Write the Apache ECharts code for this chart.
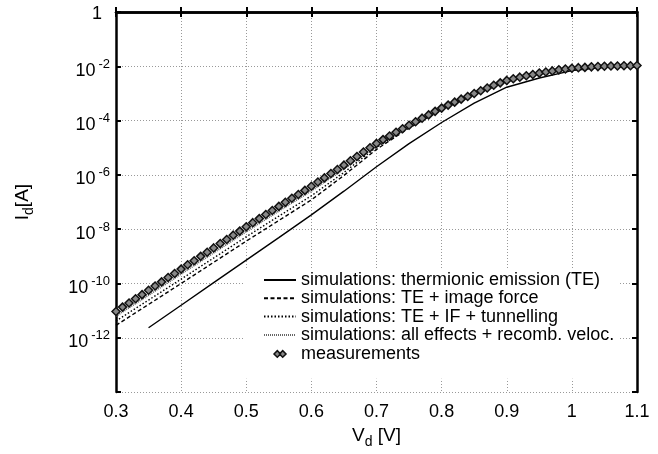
<!DOCTYPE html>
<html><head><meta charset="utf-8">
<script src="https://cdn.jsdelivr.net/npm/echarts@6/dist/echarts.min.js"></script>
<style>html,body{margin:0;padding:0;background:#fff}#c{width:658px;height:454px}</style>
</head><body><div id="c"></div>
<script>
// Measurements: Vd [V] and log10(Id [A])
const measV = [0.30,0.31,0.32,0.33,0.34,0.35,0.36,0.37,0.38,0.39,0.40,0.41,0.42,0.43,0.44,0.45,0.46,0.47,0.48,0.49,0.50,
  0.51,0.52,0.53,0.54,0.55,0.56,0.57,0.58,0.59,0.60,0.61,0.62,0.63,0.64,0.65,0.66,0.67,0.68,0.69,0.70,
  0.71,0.72,0.73,0.74,0.75,0.76,0.77,0.78,0.79,0.80,0.81,0.82,0.83,0.84,0.85,0.86,0.87,0.88,0.89,0.90,
  0.91,0.92,0.93,0.94,0.95,0.96,0.97,0.98,0.99,1.00,1.01,1.02,1.03,1.04,1.05,1.06,1.07,1.08,1.09,1.10];
const measLog = [-11.03,-10.87,-10.72,-10.56,-10.41,-10.25,-10.09,-9.94,-9.78,-9.63,-9.47,-9.31,-9.16,-9.00,-8.85,-8.69,-8.53,-8.38,-8.22,-8.07,-7.91,
  -7.76,-7.61,-7.46,-7.31,-7.16,-7.01,-6.86,-6.72,-6.57,-6.42,-6.26,-6.11,-5.95,-5.80,-5.64,-5.48,-5.32,-5.16,-5.00,-4.84,
  -4.70,-4.57,-4.43,-4.30,-4.17,-4.04,-3.91,-3.79,-3.66,-3.54,-3.43,-3.32,-3.21,-3.11,-3.00,-2.90,-2.80,-2.70,-2.61,-2.52,
  -2.46,-2.40,-2.35,-2.30,-2.25,-2.21,-2.17,-2.13,-2.10,-2.07,-2.05,-2.04,-2.02,-2.01,-2.00,-1.99,-1.99,-1.98,-1.98,-1.97];
// Simulations: Vd [V] and log10(Id [A])
const simV = [0.30,0.35,0.40,0.45,0.50,0.55,0.60,0.65,0.70,0.75,0.80,0.85,0.90,0.95,1.00,1.05,1.10];
const teV  = [0.35,0.40,0.45,0.50,0.55,0.60,0.65,0.70,0.75,0.80,0.85,0.90,0.95,1.00,1.05,1.10];
const teLog  = [-11.63,-10.80,-9.97,-9.14,-8.31,-7.47,-6.60,-5.70,-4.85,-4.07,-3.36,-2.77,-2.43,-2.16,-2.04,-1.98];
const ifLog  = [-11.54,-10.77,-10.00,-9.22,-8.44,-7.68,-6.92,-6.02,-5.06,-4.27,-3.60,-3.04,-2.55,-2.27,-2.09,-2.01,-1.97];
const tunLog = [-11.38,-10.61,-9.84,-9.06,-8.28,-7.52,-6.77,-5.91,-4.98,-4.24,-3.58,-3.03,-2.54,-2.26,-2.08,-2.00,-1.97];
const allLog = [-11.20,-10.43,-9.65,-8.87,-8.09,-7.33,-6.59,-5.78,-4.93,-4.21,-3.56,-3.01,-2.53,-2.25,-2.07,-2.00,-1.97];
// Decade tick labels shown on the current axis (log10 of Id)
const yTickExp = [0, -2, -4, -6, -8, -10, -12];
const names = ['simulations: thermionic emission (TE)','simulations: TE + image force','simulations: TE + IF + tunnelling','simulations: all effects + recomb. veloc.','measurements'];

const FONT = 'Liberation Sans, Arial, Helvetica, sans-serif';
const pts = (xs, ls) => xs.map((x, i) => [x, ls[i]]);

const chart = echarts.init(document.getElementById('c'), null, {renderer: 'canvas'});
const axisLineStyle = {color: '#000', width: 2.5};
const tickStyle = {show: true, inside: true, length: 5, lineStyle: {color: '#000', width: 2}};
const gridLine = {show: true, lineStyle: {color: '#999', width: 1, type: [1, 2]}};
const noSym = {color: 'rgba(0,0,0,0)', borderColor: 'rgba(0,0,0,0)', borderWidth: 0, opacity: 0};

function yLabel(v) {
  const e = Math.round(v);
  if (yTickExp.indexOf(e) < 0) return '';
  if (e === 0) return '{one|1}';
  return '{b|10}{s|' + e + '}';
}

chart.setOption({
  animation: false,
  backgroundColor: '#fff',
  grid: {left: 116, right: 21, top: 12, bottom: 54, containLabel: false},
  xAxis: [{
    type: 'value', min: 0.3, max: 1.1, interval: 0.1, position: 'bottom',
    axisLine: {show: true, lineStyle: axisLineStyle}, axisTick: tickStyle, splitLine: gridLine,
    axisLabel: {color: '#000', fontSize: 18, fontFamily: FONT, margin: 11},
    name: '{b|V}{s|d}{b| [V]}', nameLocation: 'middle', nameGap: 24,
    nameTextStyle: {rich: {
      b: {fontSize: 19, fontFamily: FONT, color: '#000', lineHeight: 20, verticalAlign: 'top'},
      s: {fontSize: 14, fontFamily: FONT, color: '#000', lineHeight: 32, verticalAlign: 'middle'}
    }}
  }, {
    type: 'value', min: 0.3, max: 1.1, interval: 0.1, position: 'top',
    axisLine: {show: true, lineStyle: axisLineStyle}, axisTick: tickStyle,
    axisLabel: {show: false}, splitLine: {show: false}
  }],
  yAxis: [{
    type: 'value', min: -14, max: 0, interval: 2, position: 'left',
    axisLine: {show: true, lineStyle: axisLineStyle}, axisTick: tickStyle, splitLine: gridLine,
    axisLabel: {formatter: yLabel, margin: 6, padding: [5, 0, 0, 0], rich: {
      one: {fontSize: 18, fontFamily: FONT, color: '#000', padding: [0, 8, 0, 0], lineHeight: 22},
      b: {fontSize: 18, fontFamily: FONT, color: '#000', lineHeight: 22, verticalAlign: 'bottom'},
      s: {fontSize: 13, fontFamily: FONT, color: '#000', lineHeight: 12, verticalAlign: 'top', padding: [0, 0, 0, 3]}
    }},
    name: '{b|I}{s|d}{b|[A]}', nameLocation: 'middle', nameRotate: 90, nameGap: 71,
    nameTextStyle: {rich: {
      b: {fontSize: 19, fontFamily: FONT, color: '#000', lineHeight: 20, verticalAlign: 'top'},
      s: {fontSize: 14, fontFamily: FONT, color: '#000', lineHeight: 32, verticalAlign: 'middle'}
    }}
  }, {
    type: 'value', min: -14, max: 0, interval: 2, position: 'right',
    axisLine: {show: true, lineStyle: axisLineStyle}, axisTick: tickStyle,
    axisLabel: {show: false}, splitLine: {show: false}
  }],
  legend: {
    orient: 'vertical', left: 243, top: 269, padding: [2, 4, 15, 20],
    itemWidth: 32, itemHeight: 18, itemGap: 0.3, backgroundColor: '#fff', selectedMode: false,
    textStyle: {fontSize: 18, fontFamily: FONT, color: '#000'},
    data: [
      {name: names[0], itemStyle: noSym}, {name: names[1], itemStyle: noSym},
      {name: names[2], itemStyle: noSym}, {name: names[3], itemStyle: noSym},
      {name: names[4], icon: 'path://M0 0M32 18M10 9L13.3 5.7L16.6 9L13.3 12.3ZM15.4 9L18.7 5.7L22 9L18.7 12.3Z',
       itemStyle: {color: '#888', borderColor: '#111', borderWidth: 1.5}}
    ]
  },
  series: [
    {name: names[0], type: 'line', data: pts(teV, teLog), showSymbol: false, z: 3,
     lineStyle: {color: '#000', width: 1.4, type: 'solid'}, itemStyle: {color: '#000'}},
    {name: names[1], type: 'line', data: pts(simV, ifLog), showSymbol: false, z: 3,
     lineStyle: {color: '#000', width: 1.4, type: [4, 2.5]}, itemStyle: {color: '#000'}},
    {name: names[2], type: 'line', data: pts(simV, tunLog), showSymbol: false, z: 3,
     lineStyle: {color: '#000', width: 1.4, type: [1.5, 2]}, itemStyle: {color: '#000'}},
    {name: names[3], type: 'line', data: pts(simV, allLog), showSymbol: false, z: 3,
     lineStyle: {color: '#666', width: 1.8, type: [1, 1]}, itemStyle: {color: '#666'}},
    {name: names[4], type: 'scatter', data: pts(measV, measLog), symbol: 'diamond', symbolSize: 8, z: 4, clip: false,
     itemStyle: {color: '#888', borderColor: '#111', borderWidth: 1.5, opacity: 1}}
  ]
});
</script>
</body></html>
